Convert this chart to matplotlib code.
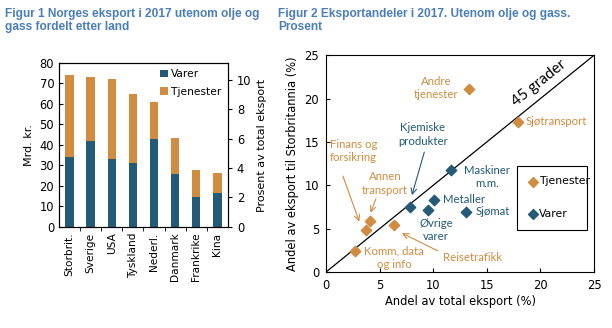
import matplotlib.pyplot as plt
import numpy as np

# Figur 1: eksport etter land (mrd. kr.)
land = ["Storbrit.", "Sverige", "USA", "Tyskland", "Nederl.", "Danmark", "Frankrike", "Kina"]
varer = [34, 42, 33, 31, 43, 26, 14.5, 16.8]
tjenester = [40, 31, 39, 34, 18, 17.5, 13.5, 9.7]

# Figur 2: andel av total eksport vs andel av eksport til Storbritannia (%)
tj_navn = ["Andre\ntjenester", "Sjøtransport", "Finans og\nforsikring", "Annen\ntransport",
           "Reisetrafikk", "Komm, data\nog info"]
tj_x = [13.37, 17.87, 3.69, 4.09, 6.33, 2.70]
tj_y = [21.07, 17.33, 4.89, 5.93, 5.39, 2.39]

va_navn = ["Kjemiske\nprodukter", "Maskiner\nm.m.", "Metaller", "Øvrige\nvarer", "Sjømat"]
va_x = [7.79, 11.63, 10.05, 9.55, 13.09]
va_y = [7.55, 11.71, 8.28, 7.20, 6.97]

blaa = "#235a78"
oransje = "#d08c40"
tittel_farge = "#4a7ebb"

fig = plt.figure(figsize=(6.12, 3.28), dpi=100)

fig.text(0.008, 0.975, "Figur 1 Norges eksport i 2017 utenom olje og\ngass fordelt etter land",
         fontsize=8.6, fontweight="bold", color=tittel_farge, family="Liberation Sans",
         va="top", linespacing=1.05)
fig.text(0.455, 0.975, "Figur 2 Eksportandeler i 2017. Utenom olje og gass.\nProsent",
         fontsize=8.6, fontweight="bold", color=tittel_farge, family="Liberation Sans",
         va="top", linespacing=1.05)

# --- venstre figur ---
fs = 8.3
ax1 = fig.add_axes([0.0964, 0.308, 0.276, 0.5])
pos = np.arange(len(land))
ax1.bar(pos, varer, width=0.4, color=blaa, label="Varer")
ax1.bar(pos, tjenester, width=0.4, bottom=varer, color=oransje, label="Tjenester")
ax1.set_xlim(-0.5, len(land) - 0.5)
ax1.set_ylim(0, 80)
ax1.set_yticks(range(0, 81, 10))
ax1.set_xticks(pos)
ax1.set_xticklabels(land, rotation=90, fontsize=7.6)
ax1.set_xticks(pos[:-1] + 0.5, minor=True)
ax1.tick_params(axis="x", which="major", length=0, pad=4)
ax1.tick_params(axis="x", which="minor", length=3, direction="out")
ax1.tick_params(axis="y", direction="in", length=3, labelsize=fs)
ax1.set_ylabel("Mrd. kr.", fontsize=8)
ax1.legend(loc="upper right", frameon=False, fontsize=7.7, handlelength=0.7,
           handleheight=0.7, handletextpad=0.3, borderaxespad=0.2, labelspacing=0.7)

ax1r = ax1.twinx()
ax1r.set_ylim(0, 80 / 7.19)
ax1r.set_yticks(range(0, 11, 2))
ax1r.tick_params(axis="y", direction="out", length=3, labelsize=fs)
ax1r.set_ylabel("Prosent av total eksport", fontsize=8)

# --- høyre figur ---
ax2 = fig.add_axes([0.5327, 0.1707, 0.438, 0.661])
ax2.plot([0, 25], [0, 25], color="black", lw=0.9)
ax2.scatter(tj_x, tj_y, marker="D", s=28, color=oransje, label="Tjenester", zorder=3)
ax2.scatter(va_x, va_y, marker="D", s=28, color=blaa, label="Varer", zorder=3)
ax2.set_xlim(0, 25)
ax2.set_ylim(0, 25)
ax2.set_xticks(range(0, 26, 5))
ax2.set_yticks(range(0, 26, 5))
ax2.tick_params(length=3, direction="in", labelsize=8.3, pad=5)
ax2.set_xlabel("Andel av total eksport (%)", fontsize=8.3, labelpad=2)
ax2.set_ylabel("Andel av eksport til Storbritannia (%)", fontsize=8.3)

ax2.text(19.9, 21.8, "45 grader", rotation=38.8, ha="center", va="center", fontsize=11,
         family="Lato")

txt = dict(fontsize=8.2, linespacing=1.25, family="Lato")
ax2.text(10.27, 21.2, tj_navn[0], color=oransje, ha="center", va="center", **txt)
ax2.text(18.64, 17.33, tj_navn[1], color=oransje, ha="left", va="center", **txt)
ax2.text(2.57, 13.94, tj_navn[2], color=oransje, ha="center", va="center", **txt)
ax2.text(5.49, 10.21, tj_navn[3], color=oransje, ha="center", va="center", **txt)
ax2.text(13.65, 1.73, tj_navn[4], color=oransje, ha="center", va="center", **txt)
ax2.text(6.36, 1.66, tj_navn[5], color=oransje, ha="center", va="center", **txt)

ax2.text(9.03, 15.87, va_navn[0], color=blaa, ha="center", va="center", **txt)
ax2.text(14.98, 10.98, va_navn[1], color=blaa, ha="center", va="center", **txt)
ax2.text(10.95, 8.4, va_navn[2], color=blaa, ha="left", va="center", **txt)
ax2.text(10.27, 4.82, va_navn[3], color=blaa, ha="center", va="center", **txt)
ax2.text(13.99, 6.93, va_navn[4], color=blaa, ha="left", va="center", **txt)

pil = dict(arrowstyle="->", lw=0.8, mutation_scale=10)
ax2.annotate("", xy=(7.94, 8.55), xytext=(9.24, 14.14), arrowprops=dict(color=blaa, **pil))
ax2.annotate("", xy=(3.19, 5.51), xytext=(1.49, 11.36), arrowprops=dict(color=oransje, **pil))
ax2.annotate("", xy=(4.06, 6.55), xytext=(4.75, 8.74), arrowprops=dict(color=oransje, **pil))
ax2.annotate("", xy=(6.85, 4.62), xytext=(10.64, 2.31), arrowprops=dict(color=oransje, **pil))

leg = ax2.legend(loc="lower left", bbox_to_anchor=(0.713, 0.194, 0.261, 0.294), mode="expand",
                 fontsize=7.8, fancybox=False, edgecolor="black", framealpha=1,
                 handletextpad=0.0, labelspacing=2.1, borderpad=1.0, borderaxespad=0,
                 handlelength=1.0, markerscale=0.95)
leg.get_frame().set_linewidth(0.8)

fig.savefig("out.png", dpi=100)
